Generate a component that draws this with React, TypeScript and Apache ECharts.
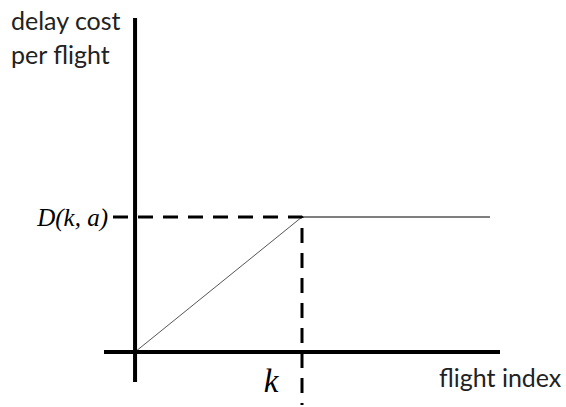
import React, { useEffect, useRef } from "react";
import * as echarts from "echarts";

// cost function: rises linearly to D(k,a) at flight k, then flat
const risingIndex = [0, 1];
const risingCost = [0, 1];
const flatIndex = [1, 2.126];
const flatCost = [1, 1];

// axes extents (in units of k and D(k,a))
const xAxisExtent = [-0.186, 2.186];
const yAxisExtent = [-0.222, 2.474];
const kValue = 1;
const dValue = 1;
const guideLeft = -0.132;
const guideBottom = -0.393;

// texts
const yAxisName = "delay cost\nper flight";
const xAxisName = "flight index";
const yTickLabel = "D(k, a)";
const xTickLabel = "k";

const pairs = (xs: number[], ys: number[]) => xs.map((x, i) => [x, ys[i]]);

export default function App() {
  const ref = useRef<HTMLDivElement>(null);
  useEffect(() => {
    if (!ref.current) return;
    const chart = echarts.init(ref.current, undefined, { renderer: "svg" });
    const base = { type: "line", symbol: "none", silent: true, clip: false, z: 2 };
    chart.setOption({
      animation: false,
      backgroundColor: "#ffffff",
      grid: { left: 104, right: 66, top: 18, bottom: 2 },
      xAxis: { type: "value", min: xAxisExtent[0], max: xAxisExtent[1], show: false },
      yAxis: { type: "value", min: guideBottom, max: yAxisExtent[1], show: false },
      series: [
        { ...base, data: pairs(risingIndex, risingCost), lineStyle: { color: "#555555", width: 1 } },
        { ...base, data: pairs(flatIndex, flatCost), lineStyle: { color: "#7f7f7f", width: 2 } },
        {
          ...base,
          z: 3,
          data: [[guideLeft, dValue], [kValue, dValue], [kValue, guideBottom]],
          lineStyle: { color: "#000000", width: 3, type: [15, 10] },
        },
        { ...base, z: 4, data: [[xAxisExtent[0], 0], [xAxisExtent[1], 0]], lineStyle: { color: "#000000", width: 4 } },
        { ...base, z: 4, data: [[0, yAxisExtent[0]], [0, yAxisExtent[1]]], lineStyle: { color: "#000000", width: 4 } },
      ],
      graphic: [
        {
          type: "text",
          left: 11,
          top: 3,
          style: { text: yAxisName, font: "25px Lato, 'Open Sans', sans-serif", lineHeight: 34, fill: "#222222" },
        },
        {
          type: "text",
          x: 108,
          y: 217,
          style: {
            text: yTickLabel,
            font: "italic 25px 'Liberation Serif', serif",
            fill: "#000000",
            align: "right",
            verticalAlign: "middle",
          },
        },
        {
          type: "text",
          x: 271,
          y: 381,
          style: {
            text: xTickLabel,
            font: "italic 33px 'Liberation Serif', serif",
            fill: "#000000",
            align: "center",
            verticalAlign: "middle",
          },
        },
        {
          type: "text",
          x: 439,
          y: 377,
          style: {
            text: xAxisName,
            font: "25px Lato, 'Open Sans', sans-serif",
            fill: "#222222",
            verticalAlign: "middle",
          },
        },
      ],
    });
    return () => chart.dispose();
  }, []);
  return <div ref={ref} style={{ width: 566, height: 407, position: "absolute", left: 0, top: 0 }} />;
}
